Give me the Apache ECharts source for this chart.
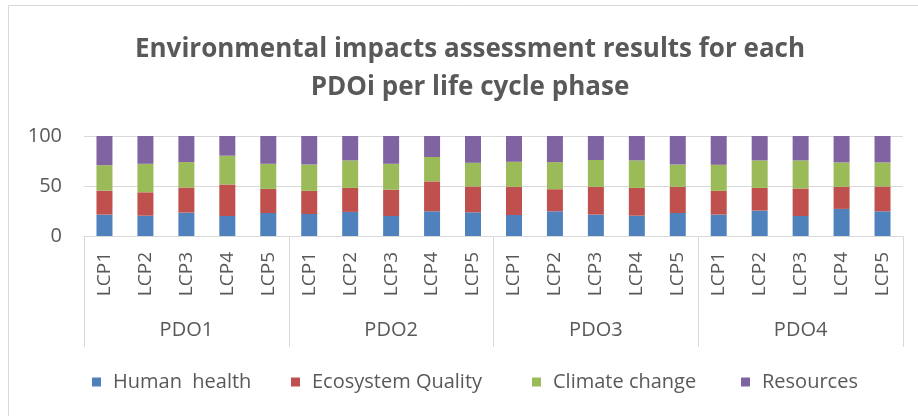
<!DOCTYPE html>
<html>
<head>
<meta charset="utf-8">
<script src="https://cdn.jsdelivr.net/npm/echarts@6/dist/echarts.min.js"></script>
<style>
html,body{margin:0;padding:0;background:#fff;}
#chart{width:918px;height:416px;}
</style>
</head>
<body>
<div id="chart"></div>
<script>
const groups = ['PDO1', 'PDO2', 'PDO3', 'PDO4'];
const phases = ['LCP1', 'LCP2', 'LCP3', 'LCP4', 'LCP5'];
const yTicks = [0, 50, 100];
const seriesNames = ['Human  health', 'Ecosystem Quality', 'Climate change', 'Resources'];
const humanHealth = [21.4, 20.3, 23.4, 20.0, 23.0, 22.0, 24.1, 20.0, 24.7, 23.7, 21.0, 24.7, 21.4, 20.3, 23.0, 21.4, 25.4, 20.0, 27.1, 24.7];
const ecosystemQuality = [24.0, 23.4, 25.1, 31.5, 24.1, 23.1, 24.0, 26.4, 29.9, 25.8, 28.2, 22.1, 27.8, 27.8, 26.2, 23.7, 22.7, 27.5, 22.1, 24.8];
const climateChange = [25.4, 28.5, 25.4, 28.8, 25.1, 26.4, 27.5, 25.8, 24.4, 23.7, 25.0, 27.1, 26.8, 27.5, 22.3, 26.1, 27.5, 28.1, 24.4, 24.1];
const resources = [29.2, 27.8, 26.1, 19.7, 27.8, 28.5, 24.4, 27.8, 21.0, 26.8, 25.8, 26.1, 24.0, 24.4, 28.5, 28.8, 24.4, 24.4, 26.4, 26.4];

const colors = ['#4f81bd', '#c0504d', '#9bbb59', '#8064a2'];
const values = [humanHealth, ecosystemQuality, climateChange, resources];
const FONT = '"Open Sans"';
const TXT = '#595959';
const GRID = '#d9d9d9';

const categories = [];
groups.forEach(g => phases.forEach(p => categories.push(g + '|' + p)));

const legendLefts = [87, 286, 527, 736];

const chart = echarts.init(document.getElementById('chart'), null, {renderer: 'canvas'});
chart.setOption({
  backgroundColor: '#fff',
  animation: false,
  textStyle: {fontFamily: FONT},
  graphic: [
    {type: 'rect', shape: {x: 8.5, y: 5.5, width: 1000, height: 1000}, style: {fill: 'none', stroke: GRID, lineWidth: 1}, silent: true},
    {type: 'text', style: {text: 'Environmental impacts assessment results for each', x: 470, y: 50, align: 'center', verticalAlign: 'middle', font: 'bold 26px ' + FONT, fill: TXT}},
    {type: 'text', style: {text: 'PDOi per life cycle phase', x: 470, y: 88, align: 'center', verticalAlign: 'middle', font: 'bold 26px ' + FONT, fill: TXT}}
  ],
  legend: seriesNames.map((n, i) => ({
    data: [n],
    left: legendLefts[i],
    top: 367,
    icon: 'rect',
    itemWidth: 9,
    itemHeight: 9,
    selectedMode: false,
    textStyle: {fontFamily: FONT, fontSize: 20, color: TXT, padding: [0, 0, 0, 7]}
  })),
  grid: {left: 84, right: 15, top: 136, bottom: 180, containLabel: false},
  xAxis: [
    {
      type: 'category',
      data: categories,
      axisLine: {show: true, lineStyle: {color: GRID, width: 1}},
      axisTick: {show: false},
      axisLabel: {
        rotate: 90, interval: 0, margin: 16, fontSize: 19, color: TXT, fontFamily: FONT,
        formatter: v => v.split('|')[1]
      }
    },
    {
      type: 'category',
      data: groups,
      position: 'bottom',
      axisLine: {show: false},
      axisTick: {show: true, length: 111, lineStyle: {color: GRID, width: 1}},
      axisLabel: {margin: 84, fontSize: 20, color: TXT, fontFamily: FONT, interval: 0}
    }
  ],
  yAxis: {
    type: 'value',
    min: yTicks[0],
    max: yTicks[yTicks.length - 1],
    interval: yTicks[1] - yTicks[0],
    axisLine: {show: false},
    axisTick: {show: false},
    splitLine: {lineStyle: {color: GRID, width: 1}},
    axisLabel: {fontSize: 20, color: TXT, margin: 22, fontFamily: FONT}
  },
  series: seriesNames.map((n, i) => ({
    name: n,
    type: 'bar',
    stack: 'total',
    xAxisIndex: 0,
    barWidth: 16,
    data: values[i],
    itemStyle: {color: colors[i]}
  }))
});
</script>
</body>
</html>
